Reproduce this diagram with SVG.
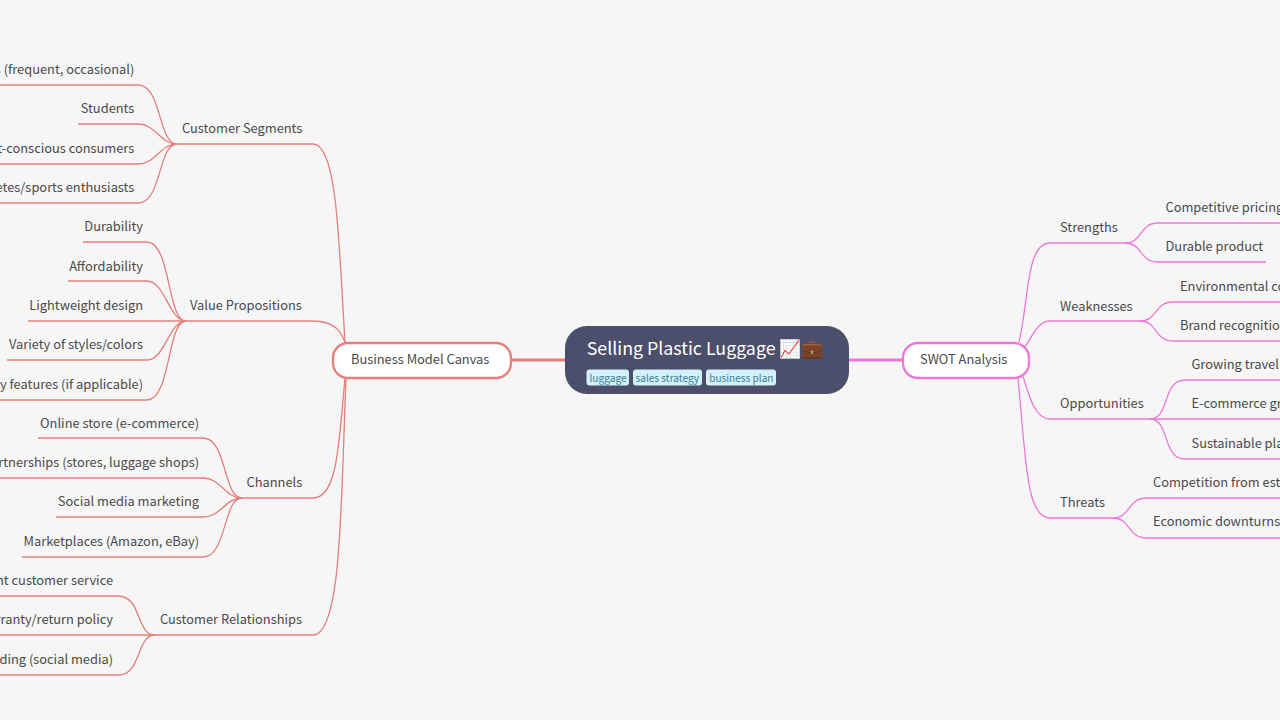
<svg xmlns="http://www.w3.org/2000/svg" width="1280" height="720" viewBox="0 0 1280 720">
<style>
text{font-family:"Noto Sans CJK SC","Noto Sans",sans-serif;font-size:12.85px;fill:#4a4a4a}
.l{text-anchor:end}
.c{fill:none;stroke-width:1.3}
.r{stroke:#e57f7c}
.p{stroke:#ee78da}
.m{fill:none;stroke-width:3}
.b{fill:#fff;stroke-width:2.3}
.t{fill:#d3f1f8;rx:3px}
.tt{font-size:10.1px;fill:#3f8098}
</style>
<rect width="1280" height="720" fill="#f6f6f6"/>
<g id="connectors">
<path class="m r" d="M512 360H565"/>
<path class="m p" d="M849 360H902"/>
<g class="c r">
<path d="M345 342C339 250 338 144 313 144H177"/>
<path d="M345 342C341 332 335 321 313 321H186"/>
<path d="M345 378C339 440 338 498 313 498H242"/>
<path d="M346 378C341 500 342 635 313 635H155"/>
<path d="M177 144C158 144 162 85 138 85H0"/>
<path d="M177 144C160 144 156 124 138 124H78"/>
<path d="M177 144C160 144 156 164 138 164H0"/>
<path d="M177 144C158 144 162 203 138 203H0"/>
<path d="M186 321C167 321 171 242 147 242H83"/>
<path d="M186 321C169 321 165 281 147 281H68"/>
<path d="M186 321H28"/>
<path d="M186 321C169 321 165 360 147 360H7"/>
<path d="M186 321C167 321 171 400 147 400H0"/>
<path d="M242 498C223 498 227 438 203 438H38"/>
<path d="M242 498C225 498 221 478 203 478H0"/>
<path d="M242 498C225 498 221 517 203 517H56"/>
<path d="M242 498C223 498 227 557 203 557H22"/>
<path d="M155 635C136 635 142 596 118 596H0"/>
<path d="M155 635H0"/>
<path d="M155 635C136 635 142 675 118 675H0"/>
</g>
<g class="c p">
<path d="M1019 342C1029 300 1026 243 1050 243H1125"/>
<path d="M1025 347C1033 335 1038 321 1050 321H1140"/>
<path d="M1023 376C1030 400 1036 419 1050 419H1150"/>
<path d="M1018 378C1026 460 1026 518 1050 518H1113"/>
<path d="M1125 243C1143 243 1139 223 1158 223H1280"/>
<path d="M1125 243C1143 243 1139 262 1158 262H1266"/>
<path d="M1140 321C1158 321 1154 302 1173 302H1280"/>
<path d="M1140 321C1158 321 1154 341 1173 341H1280"/>
<path d="M1150 419C1170 419 1162 380 1185 380H1280"/>
<path d="M1150 419H1280"/>
<path d="M1150 419C1170 419 1162 459 1185 459H1280"/>
<path d="M1113 518C1131 518 1127 498 1147 498H1280"/>
<path d="M1113 518C1131 518 1127 538 1147 538H1280"/>
</g>
</g>
<g id="root">
<rect x="565" y="326" width="284" height="68" rx="22" fill="#4c4f6b"/>
<text x="586.700" y="355" style="font-size:17.8px;fill:#fff">Selling Plastic Luggage 📈💼</text>
<rect class="t" x="586.500" y="369.500" width="42.500" height="16"/>
<text class="tt" x="589.500" y="382">luggage</text>
<rect class="t" x="633" y="369.500" width="69" height="16"/>
<text class="tt" x="635.500" y="382">sales strategy</text>
<rect class="t" x="706" y="369.500" width="70" height="16"/>
<text class="tt" x="709.200" y="382">business plan</text>
</g>
<g id="bmc"><rect class="b r" x="333" y="343" width="178" height="35" rx="15"/><text x="351" y="363.800">Business Model Canvas</text></g>
<g id="swot"><rect class="b p" x="903" y="343" width="126" height="35" rx="15"/><text x="920" y="363.800">SWOT Analysis</text></g>
<g id="customer-segments"><text x="182" y="133.400">Customer Segments</text>
<text class="l" x="134.300" y="74.300">Frequent travelers (frequent, occasional)</text>
<text class="l" x="134.300" y="113.400">Students</text>
<text class="l" x="134.300" y="153">Budget-conscious consumers</text>
<text class="l" x="134.300" y="192.200">Athletes/sports enthusiasts</text></g>
<g id="value-propositions"><text x="190" y="310">Value Propositions</text>
<text class="l" x="143" y="231.400">Durability</text>
<text class="l" x="143" y="270.600">Affordability</text>
<text class="l" x="143" y="310">Lightweight design</text>
<text class="l" x="143" y="349.200">Variety of styles/colors</text>
<text class="l" x="143" y="388.600">Security features (if applicable)</text></g>
<g id="channels"><text x="246.500" y="487">Channels</text>
<text class="l" x="199" y="428">Online store (e-commerce)</text>
<text class="l" x="199" y="467">Retail partnerships (stores, luggage shops)</text>
<text class="l" x="199" y="506.400">Social media marketing</text>
<text class="l" x="199" y="545.600">Marketplaces (Amazon, eBay)</text></g>
<g id="customer-relationships"><text x="160" y="624">Customer Relationships</text>
<text class="l" x="113" y="585">Excellent customer service</text>
<text class="l" x="113" y="624">Warranty/return policy</text>
<text class="l" x="113" y="663.600">Community building (social media)</text></g>
<g id="strengths"><text x="1060" y="232">Strengths</text>
<text x="1165.500" y="212">Competitive pricing</text>
<text x="1165.500" y="251.400">Durable product</text></g>
<g id="weaknesses"><text x="1060" y="310.500">Weaknesses</text>
<text x="1180" y="290.600">Environmental concerns</text>
<text x="1180" y="330">Brand recognition</text></g>
<g id="opportunities"><text x="1060" y="408.400">Opportunities</text>
<text x="1191.500" y="369.200">Growing travel market</text>
<text x="1191.500" y="408.400">E-commerce growth</text>
<text x="1191.500" y="448">Sustainable plastics</text></g>
<g id="threats"><text x="1060" y="507">Threats</text>
<text x="1153" y="487.200">Competition from established brands</text>
<text x="1153" y="526.400">Economic downturns</text></g>
</svg>
